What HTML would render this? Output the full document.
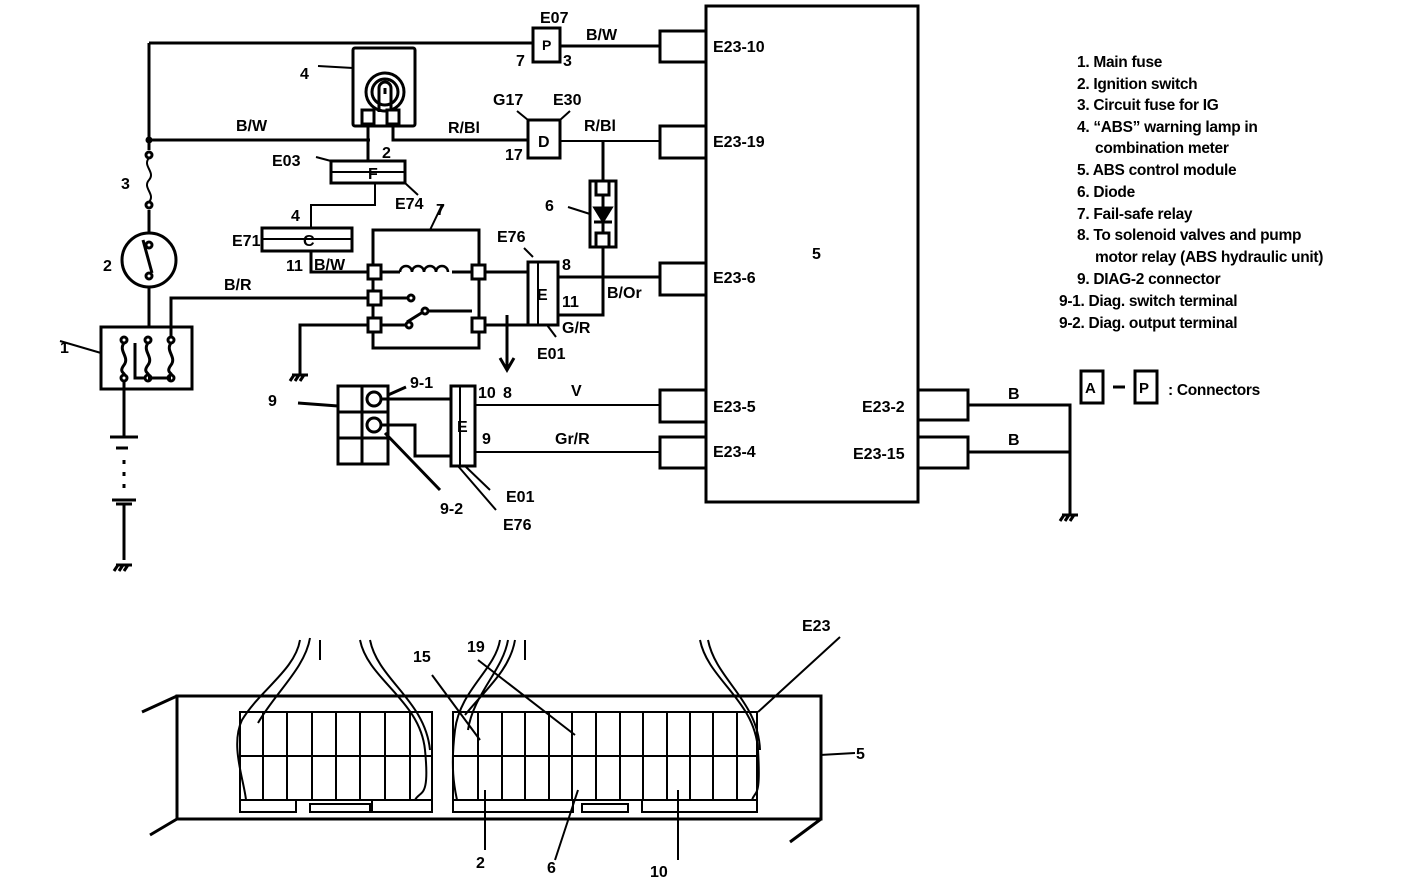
<!DOCTYPE html>
<html><head><meta charset="utf-8"><style>
html,body{margin:0;padding:0;background:#fff;}
svg{display:block;}
text{font-family:"Liberation Sans",sans-serif;font-weight:bold;fill:#000;}
</style></head><body>
<svg width="1408" height="888" viewBox="0 0 1408 888" xmlns="http://www.w3.org/2000/svg">
<g stroke="#000" stroke-width="3" fill="none">
<rect x="706" y="6" width="212" height="496"/>
<rect x="660" y="31" width="46" height="31"/>
<rect x="660" y="126" width="46" height="32"/>
<rect x="660" y="263" width="46" height="32"/>
<rect x="660" y="390" width="46" height="32"/>
<rect x="660" y="437" width="46" height="31"/>
<rect x="918" y="390" width="50" height="30"/>
<rect x="918" y="437" width="50" height="31"/>
<path d="M968 405H1070V515M968 452H1070"/>
<path d="M1062 515h16M1064 515l-4 6M1069 515l-4 6M1074 515l-4 6"/>
<path d="M149 43H533M560 46H660"/>
<rect x="533" y="28" width="27" height="34"/>
<path d="M149 43V150M149 210V234M149 287V338"/>
<path d="M149 140H370"/>
<circle cx="149" cy="140" r="2" fill="#000"/>
<!-- fuse 3 -->
<circle cx="149" cy="155" r="3" fill="#fff"/><circle cx="149" cy="205" r="3" fill="#fff"/>
<path d="M149 158c-7 8 7 14 0 22s7 14 0 22" stroke-width="2"/>
<!-- ign switch -->
<circle cx="149" cy="260" r="27" fill="#fff"/>
<circle cx="149" cy="245" r="3" fill="#fff"/><circle cx="149" cy="276" r="3" fill="#fff"/>
<path d="M143 240L152 273"/>
<!-- main fuse box -->
<rect x="101" y="327" width="91" height="62" fill="#fff"/>
<path d="M60 341L101 353" stroke-width="2"/>
<circle cx="124" cy="340" r="3"/><circle cx="124" cy="378" r="3"/>
<path d="M124 343c-6 8 6 14 0 22s2 8 0 10"/>
<circle cx="148" cy="340" r="3"/><circle cx="171" cy="340" r="3"/>
<circle cx="148" cy="378" r="3"/><circle cx="171" cy="378" r="3"/>
<path d="M148 343c-6 8 6 14 0 22s2 8 0 10M171 343c-6 8 6 14 0 22s2 8 0 10M148 378h23M135 343v35h10"/>
<path d="M171 337V298H370"/>
<!-- battery -->
<path d="M124 381V437M110 437h28M116 448h12M124 460v4M124 472v4M124 484v4M112 500h24M116 504h16M124 504V560M116 565h16M118 565l-4 6M123 565l-4 6M128 565l-4 6"/>
<!-- lamp 4 -->
<rect x="353" y="48" width="62" height="78" rx="2" fill="#fff"/>
<circle cx="385" cy="92" r="19"/>
<circle cx="385" cy="92" r="13"/>
<path d="M379 112V88a6 6 0 0 1 12 0V112M385 88v6"/>
<rect x="362" y="110" width="12" height="14" fill="#fff"/>
<rect x="387" y="110" width="12" height="14" fill="#fff"/>
<path d="M318 66L353 68" stroke-width="2"/>
<path d="M368 124V160M393 124V140H527"/>
<rect x="528" y="120" width="32" height="38" fill="#fff"/>
<path d="M560 141H660M517 111L528 120M570 111L560 120" stroke-width="2"/>
<rect x="331" y="161" width="74" height="22" fill="#fff"/>
<path d="M331 172H405" stroke-width="2"/>
<path d="M375 183V205H311V228M316 157L331 161M405 183L418 195" stroke-width="2"/>
<rect x="262" y="228" width="90" height="23" fill="#fff"/>
<path d="M262 239H352" stroke-width="2"/>
<path d="M311 251V272H370"/>
<!-- relay -->
<rect x="373" y="230" width="106" height="118"/>
<rect x="368" y="265" width="13" height="14" fill="#fff"/>
<rect x="368" y="291" width="13" height="14" fill="#fff"/>
<rect x="368" y="318" width="13" height="14" fill="#fff"/>
<rect x="472" y="265" width="13" height="14" fill="#fff"/>
<rect x="472" y="318" width="13" height="14" fill="#fff"/>
<path d="M381 272H400M452 272H472"/>
<path d="M400 272a6 6 0 0 1 12 0a6 6 0 0 1 12 0a6 6 0 0 1 12 0a6 6 0 0 1 12 0" stroke-width="2.5"/>
<path d="M381 298H407M381 325H405M407 322L423 312M427 311H472"/>
<circle cx="411" cy="298" r="3"/><circle cx="409" cy="325" r="3"/><circle cx="425" cy="311" r="3"/>
<path d="M430 230L442 205" stroke-width="2"/>
<path d="M368 325H300V375M292 375h16M294 375l-4 6M299 375l-4 6M304 375l-4 6"/>
<path d="M485 272H528M485 325H528M507 315V368M500 358L507 370L514 358"/>
<rect x="528" y="262" width="30" height="63" fill="#fff"/>
<path d="M538 262v63M533 257L524 248" stroke-width="2"/>
<path d="M547 325L556 337" stroke-width="2"/>
<path d="M558 277H660M558 315H603V247M603 141V180"/>
<rect x="590" y="181" width="26" height="66" fill="#fff"/>
<rect x="596" y="181" width="13" height="14" fill="#fff"/>
<rect x="596" y="233" width="13" height="14" fill="#fff"/>
<path d="M603 195V233M595 208h16l-8 13zM594 222h18" fill="#000"/>
<path d="M568 207L590 214" stroke-width="2"/>
<rect x="338" y="386" width="50" height="78"/>
<path d="M338 412H388M338 438H388M362 386V464"/>
<circle cx="374" cy="399" r="7"/><circle cx="374" cy="425" r="7"/>
<path d="M381 399H450M381 425H415V456H450M298 403L338 406M388 395L406 387M385 433L440 490" />
<rect x="451" y="386" width="24" height="80" fill="#fff"/>
<path d="M460 386v80M475 405H660M475 452H660M465 466L490 490M458 466L496 510" stroke-width="2"/>
</g>
<g stroke="#000" stroke-width="3" fill="none">
<rect x="177" y="696" width="644" height="123"/>
<path d="M177 696L142 712M177 819L150 835M821 819L790 842"/>
<path d="M240 712H432V800H240z" stroke-width="2"/>
<path d="M263 712v88M287 712v88M312 712v88M336 712v88M360 712v88M385 712v88M410 712v88M240 756H432" stroke-width="2"/>
<path d="M240 800v12h56v-12M310 804h60v8H310zM372 800v12h60v-12" stroke-width="2"/>
<path d="M453 712H757V800H453z" stroke-width="2"/>
<path d="M478 712v88M502 712v88M525 712v88M549 712v88M572 712v88M596 712v88M620 712v88M643 712v88M667 712v88M690 712v88M713 712v88M737 712v88M453 756H757" stroke-width="2"/>
<path d="M453 800v12h120v-12M582 804h46v8h-46zM642 800v12h115v-12" stroke-width="2"/>
<g stroke-width="2">
<path d="M300 640c-5 30-40 50-58 80-12 25 2 60 4 80M310 638c-5 30-35 55-52 85M320 640v20"/>
<path d="M360 640c8 40 60 60 65 110s-5 40-10 50M370 640c8 40 55 60 60 110"/>
<path d="M500 640c-5 30-40 50-45 90s0 60 2 70M508 640c-5 30-35 55-40 90M515 640c-5 30-30 50-50 75M525 640v20"/>
<path d="M700 640c8 40 55 60 58 110s-3 40-6 50M708 640c8 40 50 60 52 110"/>
<path d="M478 660L575 735M840 637L758 712M820 755L855 753"/>
<path d="M432 675L480 740M485 790V850M578 790L555 860M678 790V860"/>
</g>
</g>
<g font-size="16">
<text x="540" y="23">E07</text>
<text x="516" y="66">7</text><text x="563" y="66">3</text>
<text x="542" y="50" font-size="14">P</text>
<text x="586" y="40">B/W</text>
<text x="713" y="52">E23-10</text>
<text x="300" y="79">4</text>
<text x="236" y="131">B/W</text>
<text x="448" y="133">R/Bl</text>
<text x="493" y="105">G17</text><text x="553" y="105">E30</text>
<text x="538" y="147">D</text>
<text x="505" y="160">17</text>
<text x="584" y="131">R/Bl</text>
<text x="713" y="147">E23-19</text>
<text x="121" y="189">3</text>
<text x="382" y="158">2</text>
<text x="272" y="166">E03</text>
<text x="368" y="179">F</text>
<text x="395" y="209">E74</text>
<text x="436" y="215">7</text>
<text x="545" y="211">6</text>
<text x="291" y="221">4</text>
<text x="232" y="246">E71</text>
<text x="303" y="246">C</text>
<text x="286" y="271">11</text>
<text x="314" y="270">B/W</text>
<text x="103" y="271">2</text>
<text x="497" y="242">E76</text>
<text x="562" y="270">8</text>
<text x="537" y="300">E</text>
<text x="562" y="307">11</text>
<text x="607" y="298">B/Or</text>
<text x="713" y="283">E23-6</text>
<text x="812" y="259">5</text>
<text x="224" y="290">B/R</text>
<text x="562" y="333">G/R</text>
<text x="537" y="359">E01</text>
<text x="60" y="353">1</text>
<text x="410" y="388">9-1</text>
<text x="478" y="398">10</text><text x="503" y="398">8</text>
<text x="571" y="396">V</text>
<text x="268" y="406">9</text>
<text x="713" y="412">E23-5</text>
<text x="862" y="412">E23-2</text>
<text x="1008" y="399">B</text>
<text x="457" y="432">E</text>
<text x="482" y="444">9</text>
<text x="555" y="444">Gr/R</text>
<text x="713" y="457">E23-4</text>
<text x="853" y="459">E23-15</text>
<text x="1008" y="445">B</text>
<text x="506" y="502">E01</text>
<text x="440" y="514">9-2</text>
<text x="503" y="530">E76</text>
<text x="802" y="631">E23</text>
<text x="413" y="662">15</text>
<text x="467" y="652">19</text>
<text x="856" y="759">5</text>
<text x="476" y="868">2</text>
<text x="547" y="873">6</text>
<text x="650" y="877">10</text>
</g>
<g font-size="15.5" letter-spacing="-0.3">
<text x="1077" y="67">1. Main fuse</text>
<text x="1077" y="89">2. Ignition switch</text>
<text x="1077" y="110">3. Circuit fuse for IG</text>
<text x="1077" y="132">4. “ABS” warning lamp in</text>
<text x="1095" y="153">combination meter</text>
<text x="1077" y="175">5. ABS control module</text>
<text x="1077" y="197">6. Diode</text>
<text x="1077" y="219">7. Fail-safe relay</text>
<text x="1077" y="240">8. To solenoid valves and pump</text>
<text x="1095" y="262">motor relay (ABS hydraulic unit)</text>
<text x="1077" y="284">9. DIAG-2 connector</text>
<text x="1059" y="306">9-1. Diag. switch terminal</text>
<text x="1059" y="328">9-2. Diag. output terminal</text>
<text x="1168" y="395">: Connectors</text>
</g>
<g stroke="#000" stroke-width="3" fill="none">
<rect x="1081" y="371" width="22" height="32"/>
<rect x="1135" y="371" width="22" height="32"/>
<path d="M1113 387h12"/>
</g>
<text x="1085" y="393" font-size="15">A</text>
<text x="1139" y="393" font-size="15">P</text>
</svg>
</body></html>
